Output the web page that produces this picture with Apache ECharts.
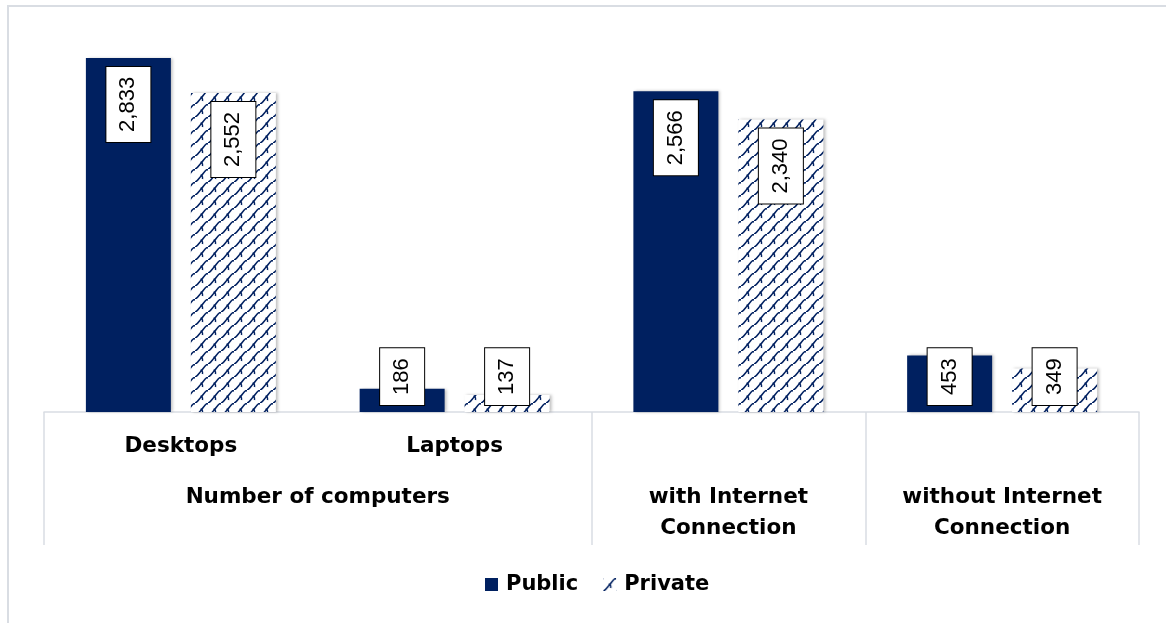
<!DOCTYPE html>
<html>
<head>
<meta charset="utf-8">
<script src="https://cdn.jsdelivr.net/npm/echarts@6/dist/echarts.min.js"></script>
<style>
  html, body { margin: 0; padding: 0; background: #fff; }
  #chart { width: 1166px; height: 623px; }
</style>
</head>
<body>
<div id="chart"></div>
<script>
// data
const subLabels = ['Desktops', 'Laptops', 'with Internet Connection', 'without Internet Connection']
const groupLabels = ['Number of computers', 'with Internet\nConnection', 'without Internet\nConnection']
const groupCenters = [1, 2.5, 3.5]
const groupEdges = [0, 2, 3, 4]
const publicVals = [2833, 186, 2566, 453]
const privateVals = [2552, 137, 2340, 349]

const navy = '#002060'
const lineGray = '#d9dde3'

// wavy diagonal fill for the Private bars
function makePattern() {
  const c = document.createElement('canvas')
  c.width = 13
  c.height = 13
  const ctx = c.getContext('2d')
  ctx.fillStyle = '#fff'
  ctx.fillRect(0, 0, 13, 13)
  ctx.strokeStyle = navy
  ctx.lineWidth = 1.5
  ctx.beginPath()
  ctx.moveTo(0, 13)
  ctx.bezierCurveTo(3, 12, 4.5, 8.5, 6.5, 6.5)
  ctx.bezierCurveTo(8.5, 4.5, 10, 1, 13, 0)
  ctx.stroke()
  ctx.beginPath()
  ctx.moveTo(6.5, 6.5)
  ctx.quadraticCurveTo(8, 7.5, 7.5, 10)
  ctx.stroke()
  ctx.fillStyle = navy
  ctx.fillRect(5.5, 5.5, 2, 2)
  ctx.fillRect(0, 12, 1.5, 1)
  ctx.fillRect(12, 0, 1, 1.5)
  return c
}
const pattern = { image: makePattern(), repeat: 'repeat' }

function barLabel(v) {
  const small = v < 1000
  return {
    show: true,
    position: small ? 'insideBottom' : 'insideTop',
    distance: small ? 7 : 9,
    rotate: 90,
    align: small ? 'left' : 'right',
    verticalAlign: 'middle',
    color: '#000',
    fontFamily: 'Liberation Sans, Arial, sans-serif',
    fontSize: 22,
    lineHeight: 22,
    backgroundColor: '#fff',
    borderColor: '#000',
    borderWidth: 1,
    padding: [11, 10],
    formatter: p => p.value.toLocaleString('en-US')
  }
}

const font = 'DejaVu Sans, Verdana, sans-serif'
const chart = echarts.init(document.getElementById('chart'))

const option = {
  animation: false,
  grid: { left: 44, right: 27, top: 37, bottom: 211 },
  graphic: [{
    type: 'rect',
    shape: { x: 8, y: 6, width: 1180, height: 640 },
    style: { fill: 'none', stroke: lineGray, lineWidth: 2 },
    silent: true
  }],
  legend: {
    top: 569,
    left: 480,
    itemWidth: 13,
    itemHeight: 13,
    itemGap: 25,
    textStyle: { fontFamily: font, fontWeight: 'bold', fontSize: 21, color: '#000', padding: [0, 0, 0, 3] },
    data: [{ name: 'Public', icon: 'rect' }, { name: 'Private', icon: 'rect' }]
  },
  xAxis: [
    {
      type: 'category',
      data: subLabels,
      axisLine: { lineStyle: { color: lineGray, width: 1.5 } },
      axisTick: { show: false },
      axisLabel: {
        margin: 23,
        interval: 0,
        fontFamily: font,
        fontWeight: 'bold',
        fontSize: 21.5,
        color: '#000',
        formatter: (v, i) => (i < 2 ? v : '')
      }
    },
    {
      type: 'value',
      position: 'bottom',
      min: 0,
      max: 4,
      axisLine: { show: false },
      splitLine: { show: false },
      axisTick: {
        show: true,
        customValues: groupEdges,
        length: 133,
        lineStyle: { color: lineGray, width: 1.5 }
      },
      axisLabel: {
        customValues: groupCenters,
        margin: 70,
        fontFamily: font,
        fontWeight: 'bold',
        fontSize: 21.5,
        lineHeight: 31,
        color: '#000',
        formatter: v => groupLabels[groupCenters.indexOf(v)]
      }
    }
  ],
  yAxis: {
    type: 'value',
    min: 0,
    max: 3000,
    show: false,
    splitLine: { show: false }
  },
  series: [
    {
      name: 'Public',
      type: 'bar',
      barWidth: 85,
      barGap: '23.5%',
      itemStyle: { color: navy, shadowColor: 'rgba(0,0,0,0.25)', shadowBlur: 3, shadowOffsetX: 2 },
      data: publicVals.map(v => ({ value: v, label: barLabel(v) }))
    },
    {
      name: 'Private',
      type: 'bar',
      barWidth: 85,
      itemStyle: { color: pattern, shadowColor: 'rgba(0,0,0,0.25)', shadowBlur: 3, shadowOffsetX: 2 },
      data: privateVals.map(v => ({ value: v, label: barLabel(v) }))
    }
  ]
}

chart.setOption(option)
window.addEventListener('resize', function () {
  chart.resize()
})
</script>
</body>
</html>
